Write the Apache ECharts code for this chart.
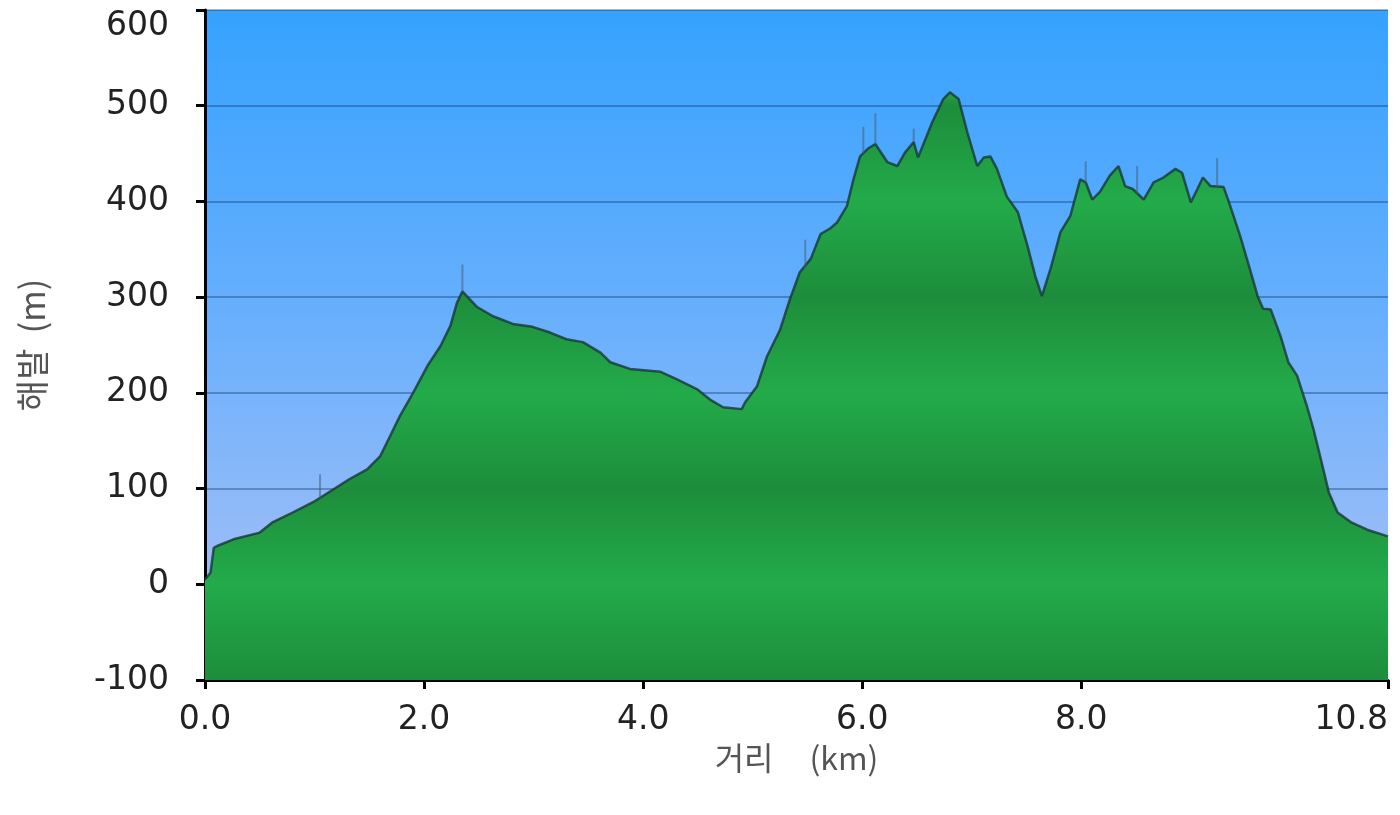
<!DOCTYPE html>
<html>
<head>
<meta charset="utf-8">
<script src="https://cdn.jsdelivr.net/npm/echarts@6/dist/echarts.min.js"></script>
<style>
html,body{margin:0;padding:0;background:#fff;}
#chart{width:1400px;height:815px;}
</style>
</head>
<body>
<div id="chart"></div>
<script>
// distance (km)
const distances = [0.00,0.05,0.08,0.11,0.26,0.50,0.62,0.80,0.99,1.17,1.32,1.48,1.60,1.69,1.78,1.90,2.03,2.15,2.24,2.30,2.35,2.39,2.48,2.63,2.81,2.99,3.15,3.30,3.45,3.61,3.70,3.88,4.16,4.31,4.49,4.61,4.73,4.90,4.93,5.04,5.13,5.25,5.34,5.43,5.53,5.62,5.71,5.77,5.86,5.92,5.98,6.05,6.12,6.23,6.32,6.39,6.47,6.51,6.64,6.74,6.80,6.88,6.96,7.05,7.11,7.17,7.23,7.32,7.42,7.51,7.58,7.64,7.72,7.81,7.90,7.99,8.04,8.10,8.17,8.26,8.34,8.40,8.47,8.57,8.66,8.75,8.86,8.92,9.00,9.06,9.11,9.18,9.30,9.36,9.45,9.54,9.61,9.66,9.73,9.82,9.89,9.97,10.06,10.12,10.18,10.26,10.34,10.46,10.61,10.80];
// elevation (m)
const elevations = [5,12,38,40,47,54,65,75,86,99,110,120,134,155,176,200,228,249,270,294,306,301,290,280,272,269,263,256,253,242,232,225,222,214,204,193,185,183,190,207,238,266,298,326,340,366,372,378,395,423,447,455,460,441,437,451,462,446,483,507,514,507,472,437,446,447,434,405,389,353,322,301,330,368,385,423,420,402,410,427,437,416,413,402,420,425,434,430,399,413,425,416,415,395,364,329,301,288,287,259,232,218,186,162,134,96,75,65,57,50];
// GPS spikes (raw noisy readings)
const spikeX    = [1.05, 2.35, 5.48, 6.01, 6.12, 6.47, 8.04, 8.51, 9.24];
const spikeBase = [90,   306,  330,  450,  460,  462,  420,  408,  415];
const spikeTop  = [115,  334,  360,  478,  492,  476,  442,  437,  445];
// tick labels
const xTicks = [0, 2, 4, 6, 8, 10.8];
const yMin = -100, yMax = 600, yStep = 100;

const profile = distances.map((d, i) => [d, elevations[i]]);
const spikeData = [];
spikeX.forEach((x, i) => { spikeData.push([x, spikeBase[i]], [x, spikeTop[i]], '-'); });

// area gradient: light at even hundreds, dark at odd hundreds
const vTop = Math.max(...elevations);
const span = vTop - yMin;
const light = '#23ab4a', dark = '#1d8d3b';
const stops = [{offset: 0, color: '#25a247'}];
for (let v = 500; v >= yMin; v -= 100) {
  if (v > vTop) continue;
  const c = (Math.round(v / 100) % 2 === 0) ? light : dark;
  stops.push({offset: (vTop - v) / span, color: c});
}

const chart = echarts.init(document.getElementById('chart'), null, {renderer: 'canvas'});
const font = 'DejaVu Sans, Verdana, sans-serif';
chart.setOption({
  animation: false,
  backgroundColor: '#ffffff',
  grid: {
    left: 205, right: 12, top: 10, bottom: 135,
    outerBoundsMode: 'none', containLabel: false,
    show: true, borderWidth: 0,
    backgroundColor: {
      type: 'linear', x: 0, y: 0, x2: 0, y2: 1,
      colorStops: [
        {offset: 0, color: '#35a2fe'},
        {offset: 0.45, color: '#67affd'},
        {offset: 0.78, color: '#93bbf8'},
        {offset: 1, color: '#a8c3f4'}
      ]
    }
  },
  xAxis: {
    type: 'value', min: 0, max: 10.8,
    name: '거리     (km)', nameLocation: 'middle', nameGap: 62,
    nameTextStyle: {fontFamily: 'Noto Sans CJK KR, DejaVu Sans, sans-serif', fontSize: 32, color: '#555555'},
    axisLine: {show: true, onZero: false, lineStyle: {color: '#000', width: 3}},
    axisTick: {show: true, length: 9, lineStyle: {color: '#000', width: 3}, customValues: xTicks},
    axisLabel: {fontFamily: font, fontSize: 33, color: '#222', margin: 24, customValues: xTicks,
      alignMaxLabel: 'right', formatter: v => v.toFixed(1)},
    splitLine: {show: false}
  },
  yAxis: {
    type: 'value', min: yMin, max: yMax, interval: yStep,
    name: '해발  (m)', nameLocation: 'middle', nameGap: 156, nameRotate: 90,
    nameTextStyle: {fontFamily: 'Noto Sans CJK KR, DejaVu Sans, sans-serif', fontSize: 34, color: '#555555'},
    axisLine: {show: true, lineStyle: {color: '#000', width: 3}},
    axisTick: {show: true, length: 9, lineStyle: {color: '#000', width: 3}},
    axisLabel: {fontFamily: font, fontSize: 33, color: '#222', margin: 36,
      verticalAlignMaxLabel: 'top'},
    splitLine: {show: true, lineStyle: {color: 'rgba(0,30,80,0.32)', width: 2}}
  },
  series: [
    {
      type: 'line', data: profile, symbol: 'none', z: 2,
      lineStyle: {color: 'rgba(25,55,55,0.8)', width: 2.5},
      areaStyle: {origin: 'start', opacity: 1,
        color: {type: 'linear', x: 0, y: 0, x2: 0, y2: 1, colorStops: stops}}
    },
    {
      type: 'line', data: spikeData, symbol: 'none', z: 3, connectNulls: false,
      lineStyle: {color: 'rgba(70,95,120,0.55)', width: 2}
    }
  ]
});
</script>
</body>
</html>
